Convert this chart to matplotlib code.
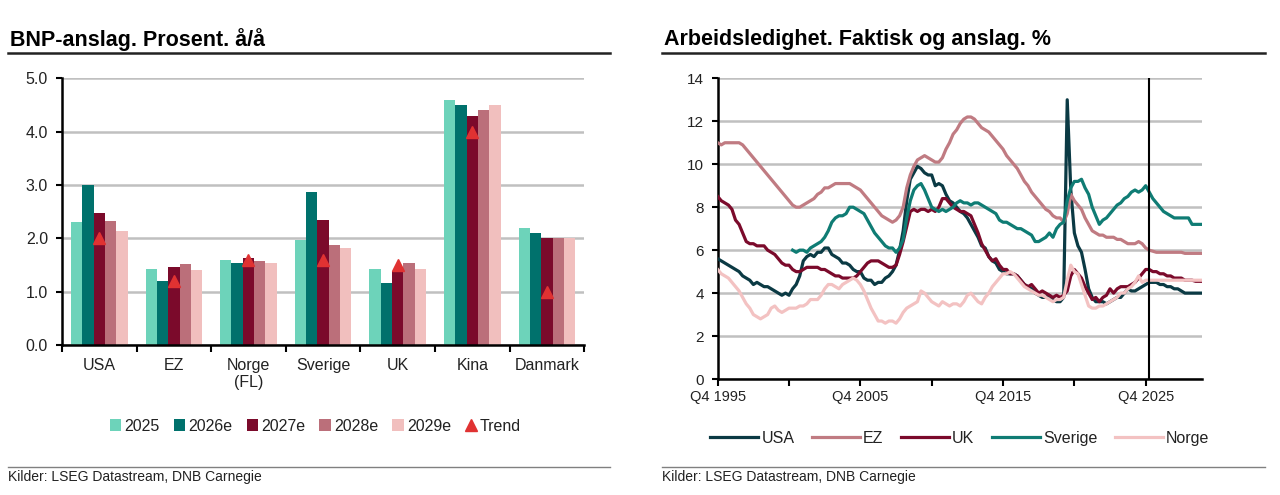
import numpy as np
import matplotlib.pyplot as plt
from matplotlib.lines import Line2D

plt.rcParams['font.family'] = ['Liberation Sans', 'DejaVu Sans']

# ---- BNP data ----
countries = ['USA', 'EZ', 'Norge\n(FL)', 'Sverige', 'UK', 'Kina', 'Danmark']
years = ['2025', '2026e', '2027e', '2028e', '2029e']
bnp = {
    '2025':  [2.30, 1.43, 1.60, 1.96, 1.42, 4.60, 2.20],
    '2026e': [3.00, 1.20, 1.53, 2.87, 1.17, 4.50, 2.10],
    '2027e': [2.47, 1.46, 1.63, 2.34, 1.38, 4.30, 2.00],
    '2028e': [2.33, 1.51, 1.58, 1.87, 1.53, 4.40, 2.00],
    '2029e': [2.14, 1.40, 1.54, 1.81, 1.43, 4.50, 2.00],
}
trend = [2.0, 1.2, 1.6, 1.6, 1.5, 4.0, 1.0]
bar_colors = ['#6dd3ba', '#00716c', '#7b0a2b', '#bb6f7a', '#f1bfbe']

# ---- unemployment data, quarterly from Q4 1995 ----
quarter0 = 1995.75
usa = [5.6,
       5.5, 5.4, 5.3, 5.2,  5.1, 5.0, 4.8, 4.7,  4.6, 4.4, 4.5, 4.4,  4.3, 4.3, 4.2, 4.1,
       4.0, 3.9, 4.0, 3.9,  4.2, 4.4, 4.8, 5.5,  5.7, 5.8, 5.7, 5.9,  5.9, 6.1, 6.1, 5.8,
       5.7, 5.6, 5.4, 5.4,  5.3, 5.1, 5.0, 5.0,  4.7, 4.6, 4.6, 4.4,  4.5, 4.5, 4.7, 4.8,
       5.0, 5.3, 6.0, 6.9,  8.3, 9.3, 9.6, 9.9,  9.8, 9.6, 9.5, 9.5,  9.0, 9.1, 9.0, 8.6,
       8.3, 8.2, 8.0, 7.8,  7.7, 7.5, 7.2, 6.9,  6.6, 6.2, 6.1, 5.7,  5.5, 5.4, 5.1, 5.0,
       4.9, 4.9, 4.9, 4.8,  4.6, 4.4, 4.3, 4.2,  4.0, 3.9, 3.8, 3.8,  3.9, 3.7, 3.6, 3.6,
       3.8, 13.0, 8.8, 6.8,  6.2, 5.9, 5.1, 4.2,  3.8, 3.6, 3.6, 3.6,  3.5, 3.6, 3.7, 3.8,
       3.8, 4.0, 4.2, 4.1,  4.1, 4.2, 4.3, 4.4,  4.5, 4.5, 4.5, 4.4,  4.4, 4.3, 4.3, 4.2,
       4.2, 4.1, 4.0, 4.0,  4.0, 4.0, 4.0, 4.0]
ez = [11.0,
      10.9, 11.0, 11.0, 11.0,  11.0, 11.0, 10.9, 10.7,  10.5, 10.3, 10.1, 9.9,  9.7, 9.5, 9.3, 9.1,
      8.9, 8.7, 8.5, 8.3,  8.1, 8.0, 8.0, 8.1,  8.2, 8.3, 8.4, 8.6,  8.7, 8.9, 8.9, 9.0,
      9.1, 9.1, 9.1, 9.1,  9.1, 9.0, 8.9, 8.8,  8.6, 8.4, 8.2, 8.0,  7.8, 7.6, 7.5, 7.4,
      7.3, 7.4, 7.6, 8.0,  8.9, 9.5, 9.9, 10.2,  10.3, 10.4, 10.3, 10.2,  10.1, 10.1, 10.3, 10.7,
      11.0, 11.4, 11.6, 11.9,  12.1, 12.2, 12.2, 12.1,  11.9, 11.7, 11.6, 11.5,  11.3, 11.1, 10.9, 10.7,
      10.4, 10.2, 10.0, 9.8,  9.5, 9.2, 9.0, 8.7,  8.5, 8.3, 8.1, 7.9,  7.8, 7.6, 7.5, 7.5,
      7.3, 7.7, 8.6, 8.3,  8.1, 7.9, 7.5, 7.2,  6.9, 6.8, 6.7, 6.7,  6.6, 6.6, 6.6, 6.5,
      6.5, 6.4, 6.3, 6.3,  6.3, 6.4, 6.3, 6.1,  6.0, 5.95, 5.9, 5.9,  5.9, 5.9, 5.9, 5.9,
      5.9, 5.9, 5.85, 5.85,  5.85, 5.85, 5.85, 5.85]
uk = [8.5,
      8.3, 8.2, 8.1, 7.9,  7.4, 7.2, 6.8, 6.4,  6.3, 6.3, 6.2, 6.2,  6.2, 6.0, 5.9, 5.8,
      5.6, 5.4, 5.3, 5.3,  5.1, 5.0, 5.0, 5.1,  5.2, 5.2, 5.2, 5.2,  5.1, 5.1, 5.0, 4.9,
      4.8, 4.8, 4.7, 4.7,  4.7, 4.7, 4.8, 5.0,  5.2, 5.4, 5.5, 5.5,  5.5, 5.4, 5.3, 5.2,
      5.2, 5.3, 5.8, 6.4,  7.1, 7.8, 7.9, 7.8,  7.9, 7.9, 7.8, 7.9,  7.8, 8.0, 8.4, 8.4,
      8.2, 8.0, 7.9, 7.8,  7.8, 7.7, 7.6, 7.2,  6.8, 6.3, 6.0, 5.7,  5.5, 5.6, 5.3, 5.1,
      5.1, 4.9, 4.9, 4.8,  4.6, 4.4, 4.3, 4.4,  4.2, 4.0, 4.1, 4.0,  3.9, 3.8, 3.9, 3.8,
      3.9, 4.1, 4.8, 5.1,  4.9, 4.7, 4.3, 4.0,  3.7, 3.8, 3.6, 3.8,  3.9, 4.2, 4.0, 4.2,
      4.3, 4.3, 4.3, 4.4,  4.5, 4.7, 4.9, 5.1,  5.1, 5.0, 5.0, 4.9,  4.9, 4.8, 4.8, 4.7,
      4.7, 4.7, 4.6, 4.6,  4.6, 4.55, 4.55, 4.55]
nan = np.nan
sverige = [nan,
           nan, nan, nan, nan,  nan, nan, nan, nan,  nan, nan, nan, nan,  nan, nan, nan, nan,
           nan, nan, nan, nan,  6.0, 5.9, 6.0, 6.0,  5.9, 6.1, 6.2, 6.3,  6.4, 6.6, 6.9, 7.3,
           7.5, 7.6, 7.6, 7.7,  8.0, 8.0, 7.9, 7.8,  7.7, 7.4, 7.1, 6.8,  6.6, 6.4, 6.2, 6.1,
           6.1, 5.9, 6.1, 6.5,  7.5, 8.3, 8.8, 9.0,  9.1, 8.8, 8.4, 8.0,  7.9, 7.8, 7.9, 7.8,
           7.9, 8.0, 8.2, 8.3,  8.2, 8.2, 8.1, 8.2,  8.2, 8.1, 8.0, 7.9,  7.8, 7.7, 7.4, 7.3,
           7.3, 7.2, 7.1, 7.0,  7.0, 6.9, 6.8, 6.7,  6.4, 6.4, 6.5, 6.6,  6.8, 6.6, 7.0, 7.2,
           7.3, 8.3, 8.9, 9.2,  9.2, 9.3, 8.9, 8.6,  8.0, 7.6, 7.2, 7.4,  7.5, 7.7, 7.9, 8.1,
           8.2, 8.4, 8.5, 8.7,  8.8, 8.7, 8.8, 9.0,  8.7, 8.4, 8.2, 8.0,  7.8, 7.7, 7.6, 7.5,
           7.5, 7.5, 7.5, 7.5,  7.2, 7.2, 7.2, 7.2]
norge = [5.1,
         4.9, 4.8, 4.7, 4.5,  4.3, 4.1, 3.8, 3.5,  3.3, 3.0, 2.9, 2.8,  2.9, 3.0, 3.3, 3.4,
         3.2, 3.1, 3.2, 3.3,  3.3, 3.3, 3.4, 3.4,  3.5, 3.7, 3.7, 3.7,  3.9, 4.2, 4.4, 4.4,
         4.3, 4.2, 4.4, 4.5,  4.6, 4.7, 4.6, 4.4,  4.1, 3.7, 3.3, 3.0,  2.7, 2.7, 2.6, 2.7,
         2.7, 2.6, 2.8, 3.1,  3.3, 3.4, 3.5, 3.6,  4.1, 4.0, 3.8, 3.6,  3.5, 3.4, 3.6, 3.5,
         3.4, 3.5, 3.5, 3.4,  3.6, 3.9, 4.0, 3.8,  3.6, 3.5, 3.8, 4.0,  4.3, 4.5, 4.7, 4.9,
         4.9, 5.0, 4.9, 4.7,  4.5, 4.3, 4.2, 4.1,  4.0, 3.9, 3.9, 3.8,  3.7, 3.6, 3.7, 3.7,
         3.8, 4.6, 5.3, 5.0,  4.9, 4.4, 3.9, 3.4,  3.3, 3.3, 3.4, 3.4,  3.5, 3.6, 3.7, 3.8,
         4.0, 4.0, 4.2, 4.3,  4.5, 4.8, 4.5, 4.6,  4.6, 4.6, 4.6, 4.6,  4.6, 4.6, 4.6, 4.6,
         4.6, 4.6, 4.6, 4.6,  4.6, 4.6, 4.6, 4.6]
series = [('USA', usa, '#0b3a44'), ('EZ', ez, '#c07b82'), ('UK', uk, '#7b0a2b'),
          ('Sverige', sverige, '#0f7c74'), ('Norge', norge, '#f3c2c2')]
xtick_labels = ['Q4 1995', '', 'Q4 2005', '', 'Q4 2015', '', 'Q4 2025']
forecast_start = 2026.0

fig = plt.figure(figsize=(12.8, 4.95), dpi=100)
grid_c = '#c0c0c0'
txt_c = '#222222'

# ---- left panel ----
ax1 = fig.add_axes([0.0484, 0.303, 0.408, 0.539])
x = np.arange(len(countries))
w = 0.152
for j, yr in enumerate(years):
    ax1.bar(x + (j - 2) * w, bnp[yr], width=w, color=bar_colors[j], label=yr, zorder=2)
ax1.plot(x, trend, linestyle='none', marker='^', markersize=9, color='#e03232', label='Trend', zorder=3)
ax1.set_xlim(-0.5, len(countries) - 0.5)
ax1.set_ylim(0, 5)
ax1.set_yticks(np.arange(0, 5.01, 1.0))
ax1.set_yticklabels([f'{v:.1f}' for v in np.arange(0, 5.01, 1.0)], fontsize=11.5, color=txt_c)
ax1.set_xticks(np.arange(-0.5, len(countries), 1.0))
ax1.set_xticklabels([])
ax1.set_xticks(x, minor=True)
ax1.set_xticklabels(countries, minor=True, fontsize=11.5, color=txt_c, va='top')
ax1.tick_params(axis='x', which='minor', length=0, pad=9)
ax1.tick_params(axis='x', which='major', length=5, width=1.5, direction='out')
ax1.tick_params(axis='y', length=4, width=1.5, direction='out', pad=6)
ax1.yaxis.grid(True, color=grid_c, lw=1.8, zorder=0)
ax1.set_axisbelow(True)
for s in ['top', 'right']:
    ax1.spines[s].set_visible(False)
for s in ['left', 'bottom']:
    ax1.spines[s].set_linewidth(1.8)
handles, labels = ax1.get_legend_handles_labels()
order = [labels.index(l) for l in years + ['Trend']]
ax1.legend([handles[i] for i in order], [labels[i] for i in order],
           loc='upper center', bbox_to_anchor=(0.485, -0.222), ncol=6, frameon=False,
           fontsize=11.5, handlelength=0.7, handleheight=0.7, handletextpad=0.2,
           columnspacing=0.9, labelcolor=txt_c)

# ---- right panel ----
ax2 = fig.add_axes([0.5607, 0.2343, 0.3784, 0.6075])
t = quarter0 + 0.25 * np.arange(len(usa))
for name, vals, c in series:
    ax2.plot(t, vals, color=c, lw=2.3, label=name, zorder=3)
ax2.axvline(forecast_start, color='black', lw=1.5, zorder=4)
ax2.set_xlim(1995.75, 2029.7)
ax2.set_ylim(0, 14)
ax2.set_yticks(np.arange(0, 15, 2))
ax2.set_yticklabels([str(v) for v in range(0, 15, 2)], fontsize=11, color=txt_c)
ax2.set_xticks(1995.75 + 5 * np.arange(len(xtick_labels)))
ax2.set_xticklabels(xtick_labels, fontsize=10.5, color=txt_c)
ax2.tick_params(axis='x', length=5, width=1.5, direction='out', pad=3)
ax2.tick_params(axis='y', length=4, width=1.5, direction='out', pad=6)
ax2.yaxis.grid(True, color=grid_c, lw=1.8, zorder=0)
ax2.set_axisbelow(True)
for s in ['top', 'right']:
    ax2.spines[s].set_visible(False)
for s in ['left', 'bottom']:
    ax2.spines[s].set_linewidth(1.8)
ax2.legend(loc='upper center', bbox_to_anchor=(0.5, -0.125), ncol=5, frameon=False,
           fontsize=11.5, handlelength=3.0, handletextpad=0.2, columnspacing=1.1,
           labelcolor=txt_c)

# ---- titles, rules and sources ----
W, H = 1280.0, 495.0
for x0, x1, title in [(8, 610, 'BNP-anslag. Prosent. å/å'),
                      (662, 1265, 'Arbeidsledighet. Faktisk og anslag. %')]:
    fig.text(x0 / W + 0.0015, 1 - 40 / H, title, fontsize=15.5, fontweight='bold',
             va='center', ha='left', color='black')
    fig.add_artist(Line2D([x0 / W, x1 / W], [1 - 53 / H] * 2, color=txt_c, lw=1.8))
    fig.add_artist(Line2D([x0 / W, x1 / W], [1 - 467 / H] * 2, color='#808080', lw=1.0))
    fig.text(x0 / W, 1 - 477 / H, 'Kilder: LSEG Datastream, DNB Carnegie', fontsize=10,
             va='center', ha='left', color=txt_c)

fig.savefig('out.png', dpi=100)
